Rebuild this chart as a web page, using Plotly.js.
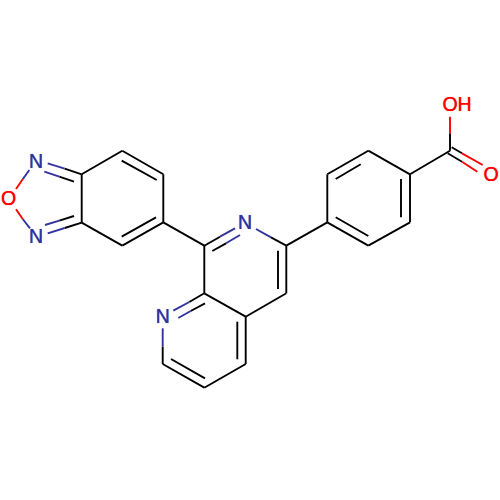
<!DOCTYPE html>
<html><head><meta charset="utf-8">
<script src="https://cdn.plot.ly/plotly-3.0.1.min.js"></script>
<style>html,body{margin:0;padding:0;background:#fff}</style></head>
<body><div id="chart" style="width:500px;height:500px"></div>
<script>
// bonds as [x1,y1,x2,y2], in picture units
const blackBonds = [
 [64.7,168.7,81.7,174.3],[59.3,176.7,74,181.7],[64.7,228,81.7,222.7],[59.3,220.7,74,216],
 [81.7,174.3,81.7,222.7],[81.7,174.3,122.3,150.7],[122.3,150.7,163.3,174.3],[163.3,174.3,163.3,222.3],
 [163.3,222.3,122.3,245.7],[122.3,245.7,81.7,222.7],[121.7,160.7,156.7,180],[121.7,236.7,156,217.3],
 [163.3,222.3,204.3,245.7],
 [204.3,245.7,220,236.7],[212.3,251,226,243.3],[271,237.3,286.3,245.7],
 [286.3,245.7,286.3,293.3],[278,250.7,278,289],[286.3,293.3,245.7,316.7],[245.7,316.7,204.3,293.3],
 [204.3,293.3,204.3,245.7],[204.3,293.3,189.3,302],[205,303.3,190.7,311],
 [162.7,346.7,162.7,364],[162.7,364,204.3,387.7],[171,359,205,378.3],[204.3,387.7,245.7,364],
 [245.7,364,245.7,316.7],[237.3,359.3,237.3,321.7],
 [286.3,245.7,327.3,222.3],[327.3,222.3,327.3,174.3],[327.3,174.3,368.3,150.7],[368.3,150.7,410,174.3],
 [410,174.3,410,222.3],[410,222.3,368.3,245.7],[368.3,245.7,327.3,222.3],
 [335.7,179,360.7,164.3],[401,179,401,217.3],[335.7,217.3,368.3,236],
 [410,174.3,450,150.7],[450,150.7,450,133.3],[451.7,147.3,462,153.3],[447.7,153.3,462,161.7]
];
const blueBonds = [
 [47.7,163.3,64.7,168.7],[44.3,171.7,59.3,176.7],[47.7,233.3,64.7,228],[45,225,59.3,220.7],
 [29.3,170,22.7,179.3],[30,228.3,22.7,219],
 [220,236.7,235,228.3],[226,243.3,240,235],[256,229,271,237.3],
 [189.3,302,173.3,310.7],[190.7,311,178.3,318],[162.7,328.3,162.7,346.7]
];
const redBonds = [
 [22.7,179.3,16,189],[22.7,219,16,209.3],
 [450,133.3,450,116.7],[462,153.3,482.7,165],[462,161.7,477.3,171.7]
];
const labelText = ["N","O","N","N","N","OH","O"];
const labelX = [36,8.5,36,245,162.7,457,491.2];
const labelY = [162.8,200.6,238.6,224.6,318.6,106.2,176.2];
const labelColor = ["#33339f","#ff0000","#33339f","#33339f","#33339f","#ff0000","#ff0000"];
const labelHalo = labelColor.map(c=>"0 0 0.7px "+c);

function bondTrace(bonds,color){
  const x=[],y=[];
  bonds.forEach(b=>{x.push(b[0],b[2],null);y.push(b[1],b[3],null);});
  return {type:"scatter",mode:"lines",x,y,hoverinfo:"skip",cliponaxis:false,
          line:{color,width:1.9}};
}
const traces=[bondTrace(blackBonds,"#000000"),bondTrace(blueBonds,"#33339f"),bondTrace(redBonds,"#ff0000"),
 {type:"scatter",mode:"text",x:labelX,y:labelY,text:labelText,textposition:"middle center",cliponaxis:false,
  textfont:{family:"Liberation Sans",size:19.5,color:labelColor,shadow:labelHalo},hoverinfo:"skip"}];
const hidden={visible:false,fixedrange:true};
Plotly.newPlot("chart",traces,{
  width:500,height:500,margin:{l:0,r:0,t:0,b:0},showlegend:false,
  paper_bgcolor:"#fff",plot_bgcolor:"#fff",
  xaxis:Object.assign({range:[0,500]},hidden),
  yaxis:Object.assign({range:[500,0]},hidden)
},{displayModeBar:false,staticPlot:true});
</script></body></html>
